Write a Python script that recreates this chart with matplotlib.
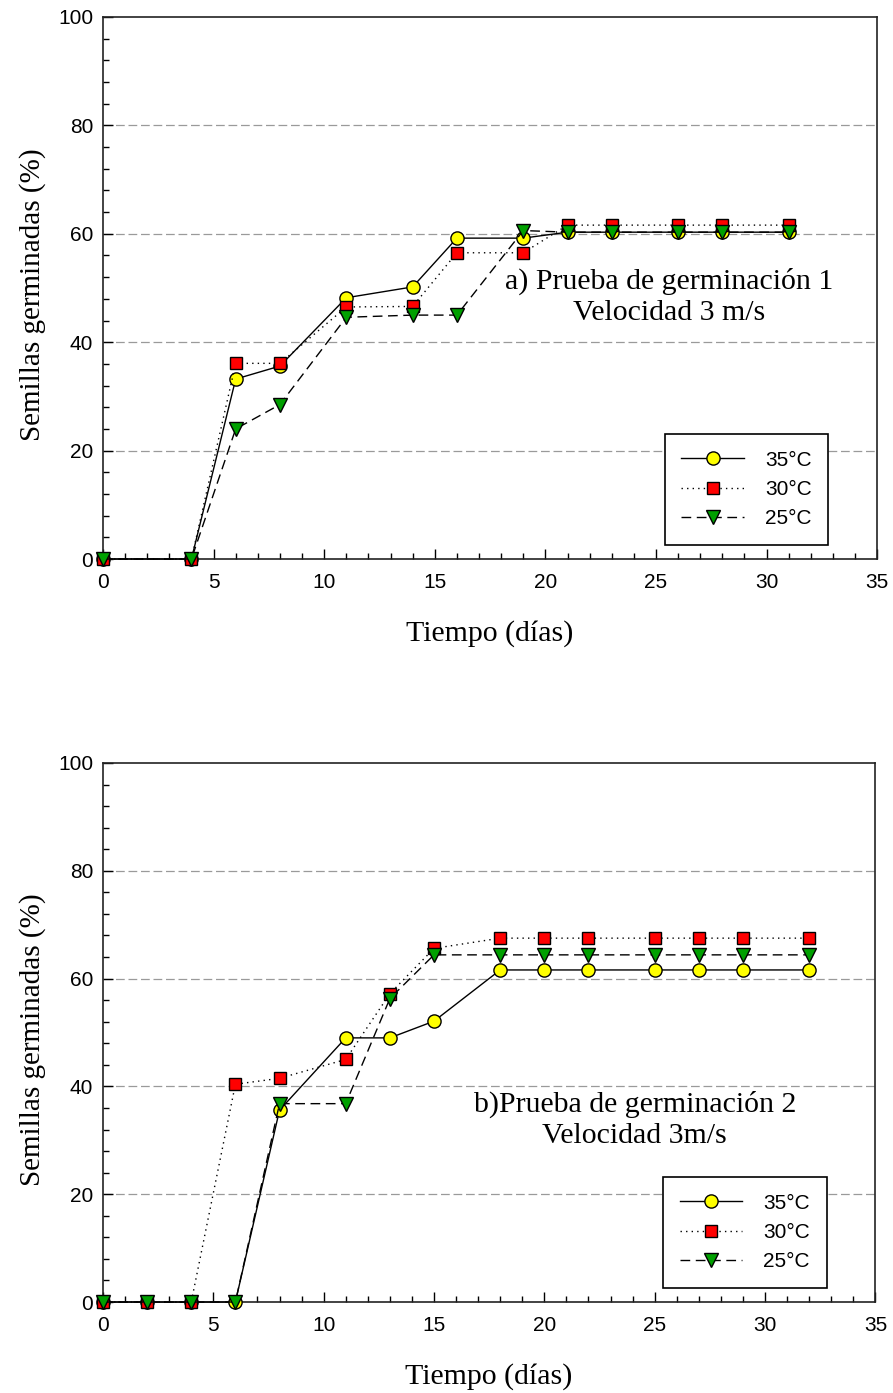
import numpy as np
from matplotlib import pyplot as plt
from matplotlib.ticker import MultipleLocator

############# Data ############
# Prueba 1
t1 = [0, 4, 6, 8, 11, 14, 16, 19, 21, 23, 26, 28, 31]
g1_35 = [0, 0, 33.2, 35.6, 48.2, 50.2, 59.2, 59.2, 60.3, 60.3, 60.3, 60.3, 60.3]
g1_30 = [0, 0, 36.1, 36.1, 46.5, 46.6, 56.5, 56.5, 61.6, 61.6, 61.6, 61.6, 61.6]
g1_25 = [0, 0, 24.0, 28.5, 44.6, 45.0, 45.0, 60.6, 60.3, 60.3, 60.3, 60.3, 60.3]

# Prueba 2
t2 = [0, 2, 4, 6, 8, 11, 13, 15, 18, 20, 22, 25, 27, 29, 32]
g2_35 = [0, 0, 0, 0, 35.6, 49.0, 49.0, 52.1, 61.6, 61.6, 61.6, 61.6, 61.6, 61.6, 61.6]
g2_30 = [0, 0, 0, 40.4, 41.5, 45.0, 57.2, 65.6, 67.5, 67.5, 67.5, 67.5, 67.5, 67.5, 67.5]
g2_25 = [0, 0, 0, 0, 36.8, 36.8, 56.3, 64.4, 64.4, 64.4, 64.4, 64.4, 64.4, 64.4, 64.4]

labels = ['35°C', '30°C', '25°C']
###############################

SERIF = ['Liberation Serif', 'DejaVu Serif']
SANS = ['Liberation Sans', 'DejaVu Sans']

styles = [
	dict(linestyle='-', marker='o', markerfacecolor='#ffff00', markersize=9.5),
	dict(linestyle=(0, (1, 3)), marker='s', markerfacecolor='#ff0000', markersize=8.5),
	dict(linestyle=(0, (7, 4)), marker='v', markerfacecolor='#00a000', markersize=9.5),
]


def panel(ax, t, series, text, text_xy):
	for gy in [20, 40, 60, 80]:
		ax.axhline(gy, color='#9a9a9a', linestyle=(0, (7, 3)), linewidth=0.9, zorder=0)
	for y, lab, st in zip(series, labels, styles):
		ax.plot(t, y, color='black', linewidth=1.0, markeredgecolor='black',
				markeredgewidth=1.0, label=lab, clip_on=False, zorder=3, **st)
	ax.set_xlim(0, 35)
	ax.set_ylim(0, 100)
	ax.xaxis.set_major_locator(MultipleLocator(5))
	ax.xaxis.set_minor_locator(MultipleLocator(1))
	ax.yaxis.set_major_locator(MultipleLocator(20))
	ax.yaxis.set_minor_locator(MultipleLocator(4))
	ax.tick_params(which='both', direction='in', top=False, right=False, width=1.0)
	ax.tick_params(which='major', length=7, labelsize=15)
	ax.tick_params(axis='x', which='major', pad=10)
	ax.tick_params(axis='y', which='major', pad=7)
	ax.tick_params(which='minor', length=4)
	for lab in ax.get_xticklabels() + ax.get_yticklabels():
		lab.set_family(SANS)
	for sp in ax.spines.values():
		sp.set_linewidth(1.2)
		sp.set_color('#222222')
	ax.set_xlabel('Tiempo (días)', family=SERIF, fontsize=21.5, labelpad=20)
	ax.set_ylabel('Semillas germinadas (%)', family=SERIF, fontsize=21)
	ax.yaxis.set_label_coords(-0.074, 0.487)
	ax.text(text_xy[0], text_xy[1], text, family=SERIF, fontsize=21.5,
			ha='center', va='center', linespacing=1.25)
	leg = ax.legend(loc='lower right', bbox_to_anchor=(0.9367, 0.0258), borderaxespad=0,
					prop={'family': SANS, 'size': 15},
					frameon=True, fancybox=False, edgecolor='black', framealpha=1,
					handlelength=3.0, handletextpad=1.0, labelspacing=0.5, borderpad=0.8)
	leg.get_frame().set_linewidth(1.2)


fig = plt.figure(figsize=(8.93, 13.93), dpi=100)
ax1 = fig.add_axes([0.1153, 0.5987, 0.867, 0.3891])
ax2 = fig.add_axes([0.1153, 0.0653, 0.865, 0.3870])

panel(ax1, t1, [g1_35, g1_30, g1_25],
	  'a) Prueba de germinación 1\nVelocidad 3 m/s', (25.6, 48.3))
panel(ax2, t2, [g2_35, g2_30, g2_25],
	  'b)Prueba de germinación 2\nVelocidad 3m/s', (24.1, 33.8))

fig.savefig('out.png', dpi=100)
